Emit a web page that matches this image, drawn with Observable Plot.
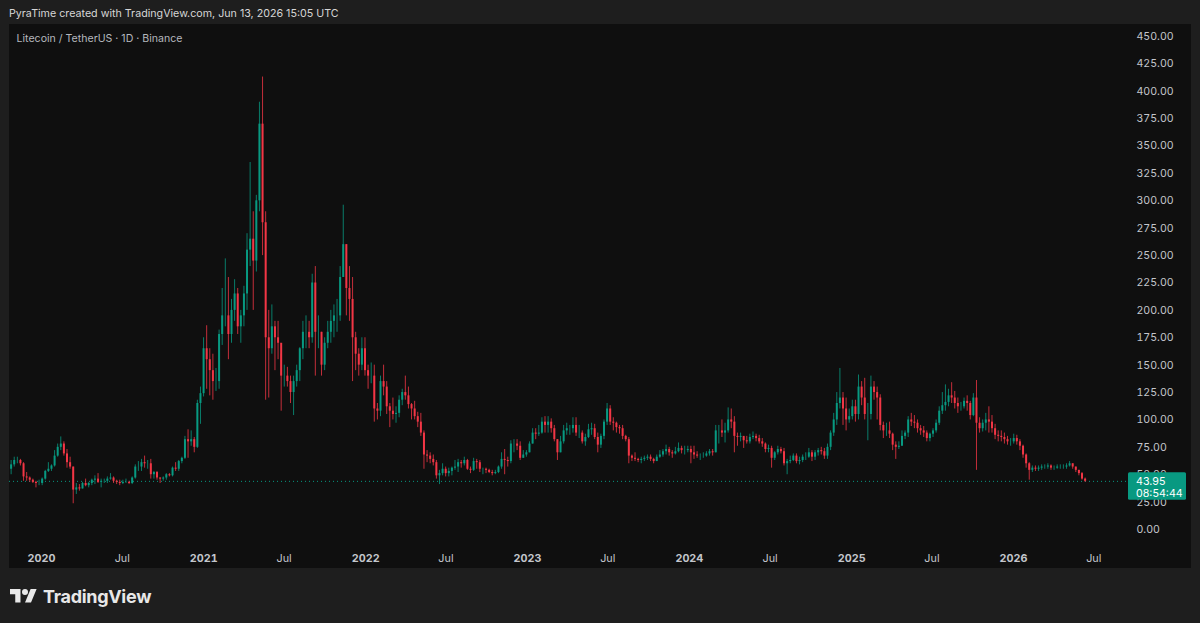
<!DOCTYPE html>
<html>
<head>
<meta charset="utf-8">
<script src="https://cdn.jsdelivr.net/npm/d3@7"></script>
<script src="https://cdn.jsdelivr.net/npm/@observablehq/plot@0.6"></script>
<style>
  html, body { margin: 0; padding: 0; background: #1e1e1e; width: 1200px; height: 623px; overflow: hidden; font-family: Inter, "Noto Sans", sans-serif; }
  #header { position: absolute; left: 9px; top: 5px; font-size: 10.7px; line-height: 18px; color: #d6d6d6; white-space: nowrap; }
  #chart { position: absolute; left: 9px; top: 24px; }
  #footer { position: absolute; left: 10px; top: 584px; height: 24px; display: flex; align-items: center; color: #e8e8e8; }
  #footer span { font-weight: 700; font-size: 18px; margin-left: 6px; letter-spacing: -0.3px; }
</style>
</head>
<body>
<div id="header">PyraTime created with TradingView.com, Jun 13, 2026 15:05 UTC</div>
<div id="chart"></div>
<div id="footer">
  <svg width="27" height="21" viewBox="0 0 36 28"><path fill="#e8e8e8" d="M14 22H7V11H0V4h14v18zM28 22h-8l7.5-18h8L28 22z"/><circle fill="#e8e8e8" cx="20" cy="8" r="4"/></svg>
  <span>TradingView</span>
</div>
<script>
// ---- data (weekly candles): [close, high, low]
const title = "Litecoin / TetherUS · 1D · Binance";
const firstOpen = 57;
const lastPrice = 43.95;
const countdown = "08:54:44";
const weekStart = ["2019-10-14","2020-01-06","2021-01-04","2022-01-03","2023-01-02","2024-01-01","2025-01-06","2026-01-05"];

const w2019 = [[55,58,53],[59,63,50],[63,66,57],[63,66,60],[60,64,58],[48,61,44],[47,52,44],[45,48,43],[43,46,42],[42,44,38],[42,45,40],[46,47,40]];

const w2020 = [
 [53,54,45],[55,61,52],[58,59,53],[67,72,57],
 [75,78,66],[78,84.5,72],[69,80,67],[61,73,56],
 [57,66,55],[36,57,23.5],[38,42,32],[37,41,35],[42,43,37],
 [40,46,39],[42,43,38],[45,46,40],[46,49,41],
 [43,51,42],[44,46,38],[44,46,42],[46,48,42],
 [47,51,45],[44,48,42],[43,45,41],[42,45,40],[43,45,41],
 [43,46,42],[42,44,41],[47,48,41],[57,59,46],
 [57,62,53],[61,64,53],[60,67,56],[60,63,55],[50,64,46],
 [52,53,46],[47,53,45],[46,47,42],[47,48,44],
 [50,51,45],[49,51,48],[56,57,48],[55,61,53],
 [62,63,53],[65,66,60],[82,85,64],[80,91,65],[82,90,76],
 [75,84,70],[115,118,74],[124,130,96],[165,175,121]];

const w2021 = [
 [155,186,128],[145,165,122],[135,160,118],[135,147,126],
 [178,182,128],[195,220,168],[195,247,185],[178,230,155],
 [200,210,170],[215,228,190],[185,220,178],[195,200,170],[215,222,185],
 [255,270,200],[265,335,240],[245,290,200],[300,305,235],
 [370,390,290],[280,413,250],[175,290,118],[165,200,120],[185,205,160],
 [175,190,145],[170,190,155],[140,160,108],[140,150,130],
 [135,148,130],[125,140,115],[135,140,104],[145,150,130],
 [165,166,135],[180,190,155],[180,195,165],[175,190,165],[225,233,170],
 [180,240,140],[180,195,165],[150,180,140],[170,175,145],
 [180,190,165],[190,200,170],[195,205,175],[195,210,180],
 [230,240,190],[260,296,230],[220,260,195],[210,240,190],[175,230,135],
 [160,180,145],[150,165,140],[165,175,145],[145,175,140]];

const w2022 = [
 [140,150,128],[140,152,133],[110,150,98],[108,115,100],[135,140,103],
 [130,150,122],[112,135,105],[108,115,93],[105,120,100],
 [106,112,97],[118,122,102],[125,128,113],[122,140,118],
 [114,130,110],[110,115,100],[103,117,100],[98,107,93],
 [88,106,85],[68,90,55],[67,72,61],[64,70,60],[61,68,58],
 [49,63,46],[51,54,41],[55,60,49],[51,57,48],
 [53,56,48],[56,57,49],[57,63,54],[61,64,52],
 [60,63,56],[63,66,58],[55,64,54],[54,57,51],[62,65,53],
 [61,64,55],[55,63,52],[55,56,50],[54,56,51],
 [52,55,51],[51,54,49],[52,54,50],[57,58,51],[64,70,55],
 [63,73,50],[62,66,57],[78,81,60],[78,82,70],
 [76,82,72],[65,80,63],[68,72,65],[70,72,66]];

const w2023 = [
 [78,80,70],[88,92,78],[87,92,82],[88,95,85],[98,102,87],
 [95,103,88],[98,103,88],[92,101,88],[82,95,80],
 [70,82,63],[80,85,70],[90,95,78],[92,97,86],
 [92,95,86],[95,102,88],[88,102,85],[88,95,83],
 [80,90,78],[84,87,76],[91,96,83],[92,97,86],[84,96,82],
 [77,88,70],[85,87,74],[98,100,82],[110,115,95],
 [98,113,95],[97,102,90],[93,98,88],[92,95,87],[85,95,82],
 [82,86,80],[67,84,60],[65,68,62],[64,70,62],
 [63,65,61],[64,66,60],[65,67,62],[66,68,63],
 [64,68,62],[62,65,60],[66,68,62],[68,72,65],[71,73,66],
 [73,77,68],[70,75,67],[69,72,65],[71,75,68],
 [74,79,70],[72,76,69],[72,76,68],[73,76,70]];

const w2024 = [
 [70,76,60],[68,76,64],[67,71,65],[67,69,63],[67,70,65],
 [69,71,66],[71,73,67],[70,73,67],[90,95,70],
 [90,95,78],[88,100,84],[90,97,79],[100,111,88],
 [98,110,92],[85,103,70],[84,88,76],[85,88,80],[81,84,74],
 [80,85,78],[84,87,78],[85,89,82],[83,87,80],
 [80,86,78],[78,83,75],[73,79,70],[74,77,70],
 [65,76,56],[70,71,63],[73,76,68],[71,75,69],[60,74,58],
 [62,64,50],[63,67,60],[67,69,62],[62,69,60],
 [63,66,59],[66,68,61],[66,70,63],[70,74,65],[66,72,62],
 [70,72,63],[72,74,67],[71,75,68],[67,74,64],
 [75,78,64],[88,90,72],[100,106,85],[115,125,95],
 [120,147,110],[110,125,95],[100,120,90],[103,110,97],[112,118,100]];

const w2025 = [
 [105,118,98],[130,141,100],[120,135,113],[105,138,100],
 [105,115,81],[130,140,100],[125,135,118],[120,130,100],
 [95,123,90],[90,98,83],[90,97,85],[87,98,83],[77,88,72],
 [75,80,64],[76,80,73],[85,90,76],[88,90,82],
 [100,103,84],[98,106,94],[97,104,92],[92,100,88],
 [90,95,86],[88,94,84],[83,90,80],[87,88,80],[90,92,84],
 [97,100,88],[108,112,95],[113,125,105],[116,132,108],
 [122,128,112],[120,134,115],[115,126,110],[112,120,106],
 [112,116,108],[117,120,110],[115,122,108],[104,117,100],[120,124,103],
 [97,136,54],[92,102,88],[97,100,89],[100,106,90],
 [98,112,88],[92,104,88],[86,96,82],[85,90,80],
 [84,90,80],[82,88,78],[80,85,77],[80,83,76],[83,87,78]];

const w2026 = [
 [80,86,77],[76,82,72],[68,77,65],[60,69,56],
 [54,61,45],[56,58,52],[55,58,53],[56,58,53],
 [57,59,54],[57,59,55],[58,60,55],[56,59,54],[56,58,54],
 [57,59,55],[57,59,55],[57,59,55],[58,60,55],
 [60,62,57],[57,60,55],[54,57,52],[51,54,49],
 [46,52,45],[43.95,47,43]];

const yTicks = d3.range(0, 451, 25);
const yearTicks = [2020, 2021, 2022, 2023, 2024, 2025, 2026];
const julTicks = [2020, 2021, 2022, 2023, 2024, 2025, 2026];

// ---- build candle table
const years = [w2019, w2020, w2021, w2022, w2023, w2024, w2025, w2026];
const DAY = 864e5;
const candles = [];
let prev = firstOpen;
years.forEach((rows, k) => {
  const t0 = new Date(weekStart[k] + "T00:00:00Z").getTime();
  rows.forEach(([close, high, low], i) => {
    candles.push({t: new Date(t0 + (i * 7 + 3.5) * DAY), open: prev, close, high, low});
    prev = close;
  });
});
const upC = candles.filter(d => d.close >= d.open);
const dnC = candles.filter(d => d.close < d.open);
const UP = "#089981", DN = "#f23645";
const axisColor = "#c3c6cc";
const FONT = "Inter, 'Noto Sans', sans-serif";

const chart = Plot.plot({
  width: 1182, height: 544,
  marginTop: 12, marginBottom: 39, marginLeft: 0, marginRight: 63,
  style: {background: "#0f0f0f", color: axisColor, fontFamily: FONT, fontSize: "10.6px", overflow: "hidden"},
  x: {type: "utc", domain: [new Date(Date.UTC(2020,0,1)), new Date(Date.UTC(2026,0,1))], range: [32, 1004], label: null},
  y: {domain: [0, 450], label: null},
  marks: [
    Plot.ruleY([lastPrice], {stroke: UP, strokeWidth: 1, strokeDasharray: "1,3"}),
    Plot.ruleX(upC, {x: "t", y1: "low", y2: "high", stroke: UP, strokeWidth: 0.8}),
    Plot.ruleX(dnC, {x: "t", y1: "low", y2: "high", stroke: DN, strokeWidth: 0.8}),
    Plot.ruleX(upC, {x: "t", y1: "open", y2: "close", stroke: UP, strokeWidth: 2}),
    Plot.ruleX(dnC, {x: "t", y1: "open", y2: "close", stroke: DN, strokeWidth: 2}),
    Plot.axisY({anchor: "right", ticks: yTicks, tickSize: 0, tickPadding: 8, tickFormat: d => d.toFixed(2), label: null, fontSize: 10.6, textAnchor: "start"}),
    Plot.axisX({ticks: yearTicks.map(y => new Date(Date.UTC(y,0,1))), tickSize: 0, tickPadding: 25, tickFormat: d => String(d.getUTCFullYear()), fontWeight: "bold", fontSize: 10.8, label: null}),
    Plot.axisX({ticks: julTicks.map(y => new Date(Date.UTC(y,6,1))), tickSize: 0, tickPadding: 25, tickFormat: () => "Jul", fontSize: 10.8, label: null}),
    Plot.text([title], {frameAnchor: "top-left", dx: 7, dy: 2, lineAnchor: "middle", textAnchor: "start", fill: "#b4b7bd", fontSize: 10.6})
  ]
});

// last-price badge positioned through the chart's own y scale
const ys = chart.scale("y").apply(lastPrice);
const xr = 1182 - 63;
const g = d3.select(chart).append("g").attr("text-anchor", "start").attr("font-family", FONT).attr("font-size", 10.7);
g.append("rect").attr("x", xr).attr("y", ys - 8.5).attr("width", 58).attr("height", 27.5).attr("rx", 1.5).attr("fill", UP);
g.append("text").attr("x", xr + 8).attr("y", ys).attr("dy", "0.35em").attr("fill", "#ffffff").text(lastPrice.toFixed(2));
g.append("text").attr("x", xr + 8).attr("y", ys + 12.5).attr("dy", "0.35em").attr("fill", "#ffffff").text(countdown);

document.getElementById("chart").appendChild(chart);
</script>
</body>
</html>
